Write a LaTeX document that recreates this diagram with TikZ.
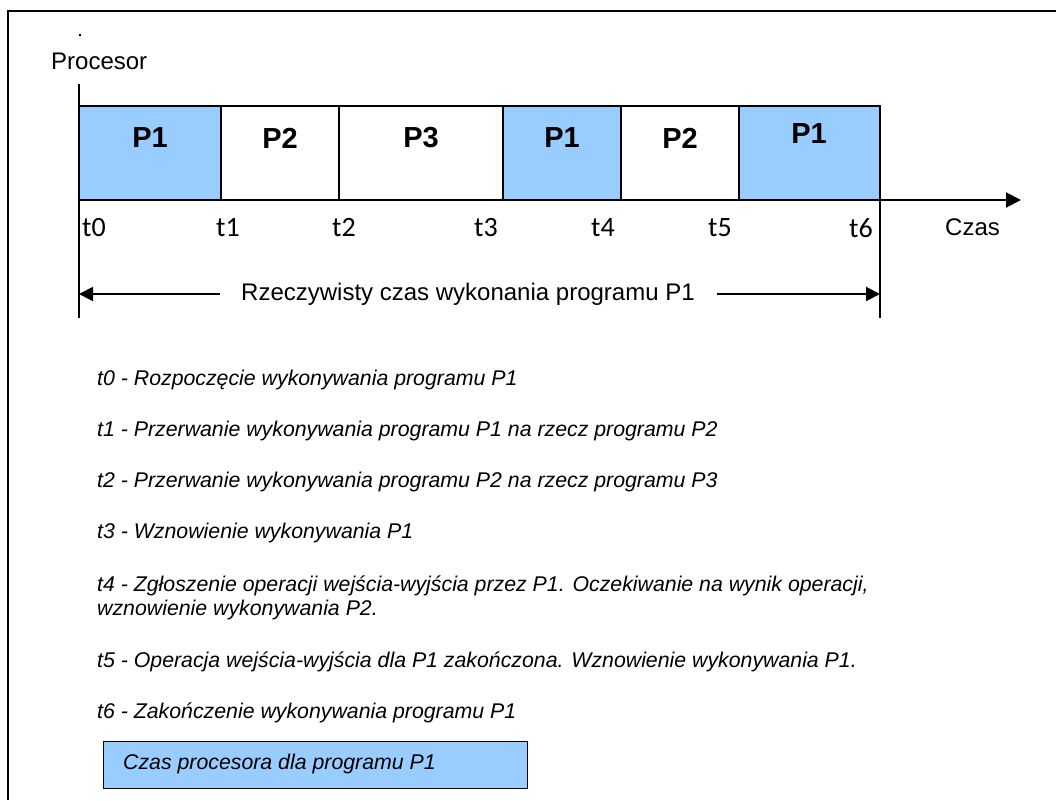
\documentclass[tikz,border=0pt]{standalone}
\usepackage{fontspec}
\setmainfont{Liberation Sans}
\newfontfamily\tickfont{Carlito}
\usetikzlibrary{arrows.meta}
\definecolor{cpublue}{HTML}{99CCFF}

\begin{document}
\begin{tikzpicture}[x=1pt,y=-1pt,
  slot/.style={draw, line width=1.4, minimum height=94, anchor=north west,
               inner sep=0, outer sep=0},
  busy/.style={slot, fill=cpublue},
  proc/.style={font=\bfseries\fontsize{29}{31}\selectfont, inner sep=0},
  tick/.style={font=\tickfont\fontsize{28}{30}\selectfont, anchor=west, inner sep=0},
  axislabel/.style={font=\fontsize{24}{27}\selectfont, anchor=west, inner sep=0},
  note/.style={font=\itshape\fontsize{21.3}{25}\selectfont, anchor=west, inner sep=0},
  axisline/.style={line width=2},
  tip/.style={-{Triangle[length=15,width=15]}},
  dimtip/.style={-{Triangle[length=14,width=14]}}]
\useasboundingbox (0,0) rectangle (1056,800);

% page frame
\draw[line width=2] (1056,11) -- (8,11) -- (8,800);
\fill (79,34) rectangle (81,36);

% vertical axis
\node[axislabel] (proclabel) at (51,61) {Procesor};
\coordinate (ytop) at (79,84);
\coordinate (ybot) at (79,318);
\draw[axisline] (ytop) -- (ybot);

% processor time slots
\node[busy, minimum width=142] (s1) at (79,106) {};
\node[slot, minimum width=118] (s2) at (221,106) {};
\node[slot, minimum width=164] (s3) at (339,106) {};
\node[busy, minimum width=118] (s4) at (503,106) {};
\node[slot, minimum width=118] (s5) at (621,106) {};
\node[busy, minimum width=141] (s6) at (739,106) {};

\node[proc] (p1) at (150,138) {P1};
\node[proc] (p2) at (280,138) {P2};
\node[proc] (p3) at (421,138) {P3};
\node[proc] (p4) at (562,138) {P1};
\node[proc] (p5) at (680,138) {P2};
\node[proc] (p6) at (809,134) {P1};

% time axis
\coordinate (xorig) at (79,200);
\coordinate (xend) at (1021,200);
\draw[axisline, tip] (xorig) -- (xend);
\coordinate (t6top) at (880,200);
\coordinate (t6bot) at (880,318);
\draw[axisline] (t6top) -- (t6bot);

\node[tick] (t0) at (82,228) {t0};
\node[tick] (t1) at (216,228) {t1};
\node[tick] (t2) at (332,228) {t2};
\node[tick] (t3) at (474,228) {t3};
\node[tick] (t4) at (591,228) {t4};
\node[tick] (t5) at (708,228) {t5};
\node[tick] (t6) at (849,228) {t6};
\node[axislabel] (czas) at (945,227) {Czas};

% real execution time of P1
\node[axislabel] (span) at (241,294) {Rzeczywisty czas wykonania programu P1};
\coordinate (spanl) at (220,294);
\coordinate (spanr) at (717,294);
\coordinate (spanl0) at (79,294);
\coordinate (spanr0) at (880,294);
\draw[axisline, dimtip] (spanl) -- (spanl0);
\draw[axisline, dimtip] (spanr) -- (spanr0);

% event descriptions
\node[note] (n0) at (97,380) {t0 - Rozpoczęcie wykonywania programu P1};
\node[note] (n1) at (97,431) {t1 - Przerwanie wykonywania programu P1 na rzecz programu P2};
\node[note] (n2) at (97,482) {t2 - Przerwanie wykonywania programu P2 na rzecz programu P3};
\node[note] (n3) at (97,533) {t3 - Wznowienie wykonywania P1};
\node[note] (n4) at (97,586) {t4 - Zgłoszenie operacji wejścia-wyjścia przez P1. Oczekiwanie na wynik operacji,};
\node[note] (n4b) at (97,610) {wznowienie wykonywania P2.};
\node[note] (n5) at (97,662) {t5 - Operacja wejścia-wyjścia dla P1 zakończona. Wznowienie wykonywania P1.};
\node[note] (n6) at (97,713) {t6 - Zakończenie wykonywania programu P1};

% legend
\node[draw, line width=1.4, fill=cpublue, anchor=north west, inner sep=0,
      minimum width=424, minimum height=47] (legend) at (103,741) {};
\node[note] (legendtext) at (123,764) {Czas procesora dla programu P1};
\end{tikzpicture}
\end{document}
